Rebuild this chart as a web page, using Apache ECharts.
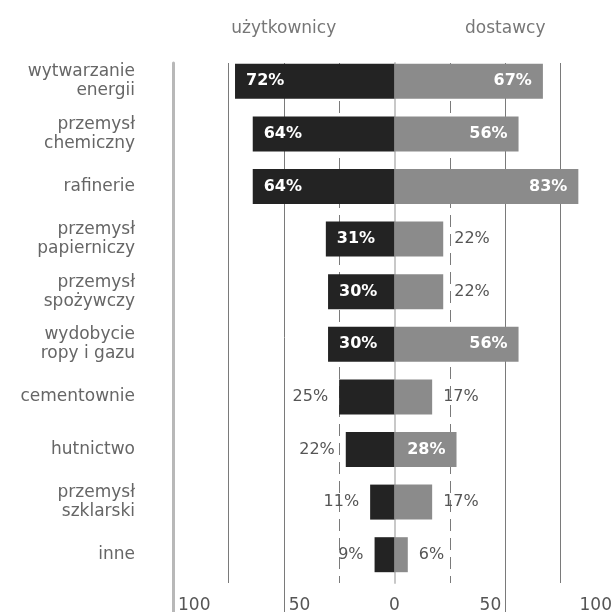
<!DOCTYPE html>
<html>
<head>
<meta charset="utf-8">
<script src="https://cdn.jsdelivr.net/npm/echarts@6/dist/echarts.min.js"></script>
<style>html,body{margin:0;padding:0;background:#fff}#c{width:613px;height:612px}</style>
</head>
<body>
<div id="c"></div>
<script>
const categories = ['wytwarzanie\nenergii','przemysł\nchemiczny','rafinerie','przemysł\npapierniczy','przemysł\nspożywczy','wydobycie\nropy i gazu','cementownie','hutnictwo','przemysł\nszklarski','inne'];
const uzytkownicy = [72,64,64,31,30,30,25,22,11,9];
const dostawcy = [67,56,83,22,22,56,17,28,17,6];
const sideTitles = ['użytkownicy','dostawcy'];

const FF = 'DejaVu Sans';
const T = 'rgba(0,0,0,0)';
const L = 173, W = 443;

function lbl(inside, pos) {
  return inside
    ? {show:true, position:pos, distance:11, color:'#fff', fontWeight:'bold', fontSize:16, fontFamily:FF,
       formatter: p => Math.abs(p.value) + '%'}
    : {show:true, position:pos, distance:11, color:'#555', fontWeight:'normal', fontSize:16, fontFamily:FF,
       formatter: p => Math.abs(p.value) + '%'};
}

const leftData = uzytkownicy.map(v => ({value:-v, label: lbl(v >= 30, v >= 30 ? 'insideLeft' : 'left')}));
const rightData = dostawcy.map(v => ({value:v, label: lbl(v >= 28, v >= 28 ? 'insideRight' : 'right')}));

function baseX(gridIndex, extra) {
  return Object.assign({
    type:'value', gridIndex, min:-100, max:100, interval:25,
    axisLine:{show:false}, axisTick:{show:false}, axisLabel:{show:false}, splitLine:{show:false}
  }, extra || {});
}
function lineColors(map) {
  const vals = [-100,-75,-50,-25,0,25,50,75,100];
  return vals.map(v => map.indexOf(v) >= 0 ? '#7a7a7a' : T);
}
function g(top, bottom) {
  return {left:L, width:W, top, bottom, containLabel:false, outerBoundsMode:'none'};
}

const option = {
  animation:false,
  backgroundColor:'#fff',
  grid:[
    g(55, 31),   // 0 bars
    g(63, 0),    // 1 long lines
    g(63, 29),   // 2 short solid lines + negative labels
    g(63, 29),   // 3 dashed lines + positive labels
  ],
  xAxis:[
    baseX(0, {position:'bottom', axisLabel:{show:true, margin:16, fontSize:17, fontFamily:FF, color:'#555',
      formatter: v => v === 0 ? '0' : ''}}),
    baseX(0, {position:'top', axisLabel:{show:true, margin:18, fontSize:17, fontFamily:FF, color:'#777',
      formatter: v => v === -50 ? sideTitles[0] : (v === 50 ? sideTitles[1] : '')}}),
    baseX(1, {splitLine:{show:true, lineStyle:{color:lineColors([-50,50]), width:1}}}),
    baseX(2, {splitLine:{show:true, lineStyle:{color:lineColors([-75,75]), width:1}},
      axisLabel:{show:true, margin:14, fontSize:17, fontFamily:FF, color:'#555', align:'left', padding:[0,0,0,5],
        showMinLabel:true, formatter: v => (v === -100 || v === -50) ? String(-v) : ''}}),
    baseX(3, {splitLine:{show:true, lineStyle:{color:lineColors([-25,25]), width:1, type:[12,7]}},
      axisLabel:{show:true, margin:14, fontSize:17, fontFamily:FF, color:'#555', align:'right', padding:[0,4,0,0],
        showMaxLabel:true, formatter: v => (v === 100 || v === 50) ? String(v) : ''}}),
  ],
  yAxis:[
    {type:'category', gridIndex:0, data:categories, inverse:true,
     axisLine:{show:false}, axisTick:{show:false}, splitLine:{show:false},
     axisLabel:{margin:38, fontSize:17, lineHeight:19, fontFamily:FF, color:'#666', align:'right'}},
    {type:'value', gridIndex:1, min:0, max:1, axisLine:{show:true, onZero:false, lineStyle:{color:'#b8b8b8', width:3}},
     axisTick:{show:false}, axisLabel:{show:false}, splitLine:{show:false}},
    {type:'value', gridIndex:2, min:0, max:1, axisLine:{show:true, onZero:true, lineStyle:{color:'#c8c8c8', width:2}},
     axisTick:{show:false}, axisLabel:{show:false}, splitLine:{show:false}},
    {type:'value', gridIndex:3, min:0, max:1, axisLine:{show:false},
     axisTick:{show:false}, axisLabel:{show:false}, splitLine:{show:false}},
  ],
  series:[
    {name:sideTitles[0], type:'bar', xAxisIndex:0, yAxisIndex:0, data:leftData, barWidth:35, barGap:'-100%',
     itemStyle:{color:'#232323'}, z:5},
    {name:sideTitles[1], type:'bar', xAxisIndex:0, yAxisIndex:0, data:rightData, barWidth:35, barGap:'-100%',
     itemStyle:{color:'#8b8b8b'}, z:5},
  ]
};

const chart = echarts.init(document.getElementById('c'), null, {renderer:'canvas'});
chart.setOption(option);
</script>
</body>
</html>
